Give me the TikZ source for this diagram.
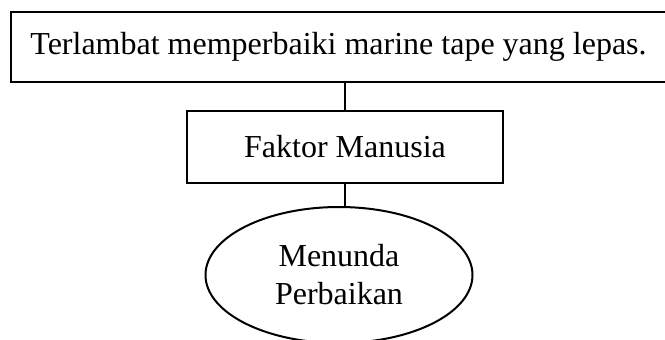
\documentclass[tikz,border=0pt]{standalone}
\usepackage{fontspec}
\setmainfont{Liberation Serif}
\usepackage{tikz}
\usetikzlibrary{shapes,arrows}
\tikzstyle{box} = [draw, rectangle, line width=1pt, inner sep=0pt, font=\fontsize{16pt}{19pt}\selectfont]
\tikzstyle{oval} = [draw, ellipse, line width=1pt, inner sep=0pt, align=center, font=\fontsize{16pt}{19pt}\selectfont]
\tikzstyle{line} = [draw, line width=1pt]

\begin{document}
\begin{tikzpicture}[x=0.5pt,y=-0.5pt]
	\useasboundingbox (0,0) rectangle (665,339);
	
	% ------------------- Boxes ------------------- %
	\node[box, minimum width=327.5pt, minimum height=35pt] (sebab) at (338.5,46.5) {Terlambat memperbaiki marine tape yang lepas.};
	\node[box, minimum width=158pt, minimum height=36pt] (faktor) at (345,147) {Faktor Manusia};
	\node[oval, minimum width=133.5pt, minimum height=68pt] (akibat) at (339,275) {Menunda\\Perbaikan};
	
	% ------------------- Connectors ------------------- %
	\path[line] (faktor.north |- sebab.south) -- (faktor.north);
	\path[line] (faktor.south) -- (faktor.south |- akibat.north);
\end{tikzpicture}
\end{document}
